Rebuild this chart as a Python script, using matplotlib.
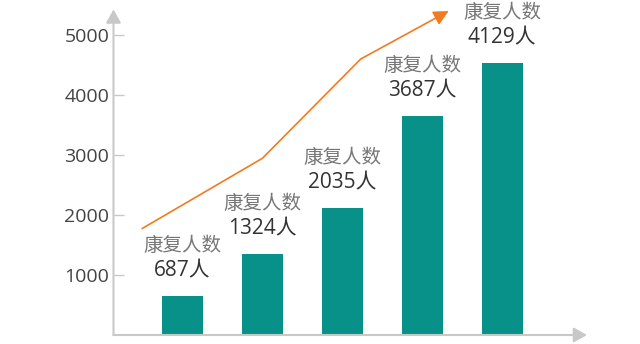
import numpy as np
import matplotlib
matplotlib.use('Agg')
from matplotlib import pyplot as plt

plt.rcParams['font.family'] = ['Open Sans', 'Noto Sans CJK SC', 'DejaVu Sans']

### bar data
bar_heights = [650, 1350, 2120, 3650, 4540]
label_values = ['687人', '1324人', '2035人', '3687人', '4129人']
label_title = '康复人数'
### trend line (x in bar units, y in axis units)
trend_x = [-0.51, 1.0, 2.23, 3.33]
trend_y = [1770, 2945, 4600, 5400]
yticks = [1000, 2000, 3000, 4000, 5000]

teal = '#079189'
orange = '#f27b21'
axis_gray = '#c8c8c8'

fig = plt.figure(figsize=(6.4, 3.44), dpi=100)
ax = fig.add_axes([113.5/640, 9/344, (587-113.5)/640, (335-9.5)/344])
ax.set_xlim(-0.8625, 5.06)
ax.set_ylim(0, 5425)

locations = np.arange(len(bar_heights))
ax.bar(locations, bar_heights, width=0.51, color=teal, zorder=2)

### labels above bars
for x, h, v in zip(locations, bar_heights, label_values):
    ax.annotate(label_title, (x, h), xytext=(0, 36), textcoords='offset points',
                ha='center', va='center', fontsize=14, color='#777777')
    ax.annotate(v, (x, h), xytext=(0, 18), textcoords='offset points',
                ha='center', va='center', fontsize=15, color='#333333')

### orange trend line with arrow at the end
ax.plot(trend_x[:-1], trend_y[:-1], color=orange, lw=1.2, solid_capstyle='butt')
ax.annotate('', xy=(trend_x[-1], trend_y[-1]), xytext=(trend_x[-2], trend_y[-2]),
            arrowprops=dict(arrowstyle='-|>,head_length=0.9,head_width=0.45',
                            color=orange, lw=1.2, shrinkA=0, shrinkB=0))

### axes drawn as arrows
for s in ax.spines.values():
    s.set_visible(False)
ax.annotate('', xy=(0, 1), xycoords='axes fraction', xytext=(0, 0),
            arrowprops=dict(arrowstyle='-|>,head_length=0.8,head_width=0.45',
                            color=axis_gray, lw=1.5, shrinkA=0, shrinkB=0))
ax.annotate('', xy=(1, 0), xycoords='axes fraction', xytext=(0, 0),
            arrowprops=dict(arrowstyle='-|>,head_length=0.8,head_width=0.45',
                            color=axis_gray, lw=1.5, shrinkA=0, shrinkB=0))

ax.set_xticks([])
ax.set_yticks(yticks)
ax.tick_params(axis='y', direction='in', length=7, width=1, color=axis_gray,
               labelsize=14, labelcolor='#444444', pad=3)

fig.savefig('out.png', dpi=100)
